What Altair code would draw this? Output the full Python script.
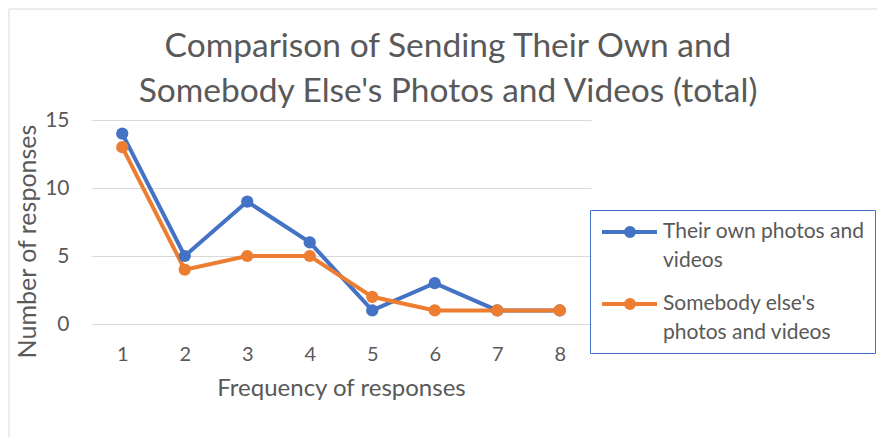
import altair as alt
import pandas as pd

frequency = [1, 2, 3, 4, 5, 6, 7, 8]
own_values = [14, 5, 9, 6, 1, 3, 1, 1]
else_values = [13, 4, 5, 5, 2, 1, 1, 1]
series_names = ["Their own photos and videos", "Somebody else's photos and videos"]
colors = ["#4472C4", "#ED7D31"]
y_ticks = [0, 5, 10, 15]

rows = []
for name, vals in zip(series_names, [own_values, else_values]):
    for f, v in zip(frequency, vals):
        rows.append({"freq": f, "value": v, "series": name})
df = pd.DataFrame(rows)

FONT = "Lato"
GRAY = "#595959"

# legend glyph: a line with a dot, drawn in symbol units (1 unit = 10 px at size 400)
sym = ("M-1,0L4.5,0M1.4,0A0.4,0.4 0 1,1 2.2,0A0.4,0.4 0 1,1 1.4,0Z")

label_expr = ("datum.label == 'Their own photos and videos' ? "
              "['Their own photos and', 'videos'] : "
              "[\"Somebody else's\", 'photos and videos']")

lines = alt.Chart(df).mark_line(
    strokeWidth=4,
    point=alt.OverlayMarkDef(filled=True, size=150),
).encode(
    x=alt.X("freq:Q",
            scale=alt.Scale(domain=[0.5, 8.5], nice=False, zero=False),
            axis=alt.Axis(values=frequency, grid=False, domain=False, ticks=False,
                          labelPadding=20, labelFontSize=20, labelColor=GRAY,
                          title="Frequency of responses", titleFontSize=24,
                          titleColor=GRAY, titleFontWeight="normal", titlePadding=12)),
    y=alt.Y("value:Q",
            scale=alt.Scale(domain=[0, 15], nice=False),
            axis=alt.Axis(values=y_ticks, grid=True, gridColor="#D9D9D9", domain=False,
                          ticks=False, labelPadding=22, labelFontSize=21, labelColor=GRAY,
                          title="Number of responses", titleFontSize=25, titleColor=GRAY,
                          titleFontWeight="normal", titlePadding=4, titleY=121)),
    color=alt.Color("series:N",
                    scale=alt.Scale(domain=series_names, range=colors),
                    sort=series_names,
                    legend=alt.Legend(
                        title=None, orient="none", legendX=499, legendY=90,
                        strokeColor="#4472C4", padding=10,
                        symbolType=sym, symbolSize=400, symbolStrokeWidth=4,
                        labelExpr=label_expr, labelFontSize=21, labelColor=GRAY,
                        labelFont=FONT, labelLimit=300, labelOffset=39,
                        rowPadding=21, symbolOffset=0)),
)

frame = alt.Chart(pd.DataFrame({"k": [0]})).mark_rect(
    fill=None, stroke="#D9D9D9", strokeWidth=1
).encode(
    x=alt.value(-82), x2=alt.value(791), y=alt.value(-111), y2=alt.value(318)
)

chart = alt.layer(frame, lines).properties(
    width=500,
    height=204,
    padding={"left": 83, "top": 112, "right": 286, "bottom": 113},
    autosize=alt.AutoSizeParams(type="none"),
    title=alt.Title(
        text=["Comparison of Sending Their Own and",
              "Somebody Else's Photos and Videos (total)"],
        fontSize=33.5, color=GRAY, font=FONT, fontWeight="normal",
        anchor="middle", frame="group", dx=107, dy=115, offset=14, lineHeight=45,
    ),
).configure(
    font=FONT,
    style={"guide-label": {"lineHeight": 29}},
).configure_view(
    stroke=None,
).configure_legend(
    strokeWidth=1,
)

chart.save("out.html", embed_options={"renderer": "svg", "actions": False})
